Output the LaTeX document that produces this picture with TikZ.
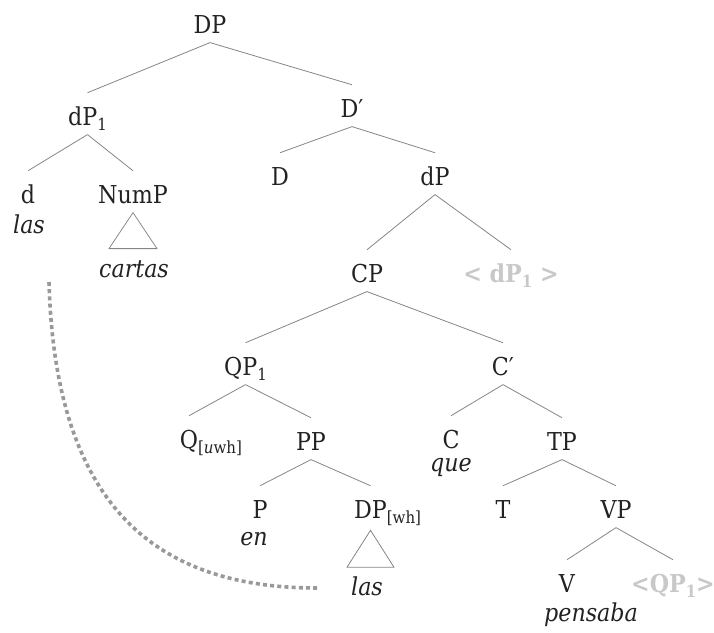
\documentclass[tikz,border=0pt]{standalone}
\usepackage{fontspec}
\setmainfont{DejaVu Serif Condensed}
\definecolor{ln}{HTML}{858585}
\definecolor{txt}{HTML}{222222}
\definecolor{ghost}{HTML}{C8C8C8}
\definecolor{dots}{HTML}{999999}
\newcommand\sbs[1]{\raisebox{-0.22em}{\fontsize{12.5}{13}\selectfont #1}}
\begin{document}
\begin{tikzpicture}[x=0.75pt,y=-0.75pt,
  lab/.style={anchor=base,inner sep=0pt,text height=24pt,text depth=7pt,
    font=\fontsize{18.5}{20}\selectfont,text=txt},
  word/.style={lab,font=\fontsize{18.5}{20}\selectfont\itshape},
  trace/.style={lab,font=\fontsize{18.5}{20}\selectfont\bfseries,text=ghost},
  edge/.style={draw=ln,line width=0.6pt},
  tri/.style={draw=ln,line width=0.6pt},
  move/.style={draw=dots,line width=2.7pt,dash pattern=on 3pt off 2.4pt}]
\useasboundingbox (0,0) rectangle (714,632);
% nodes
\node[lab] (DP) at (210,33) {DP};
\node[lab] (dP1) at (87.5,125) {dP\sbs{1}};
\node[lab] (Dbar) at (352,117) {D′};
\node[lab] (d) at (28,203) {d};
\node[word] (las1) at (29,233) {las};
\node[lab] (NumP) at (133,203) {NumP};
\node[word] (cartas) at (134,277) {cartas};
\node[lab] (D) at (280,185) {D};
\node[lab] (dP) at (435,185) {dP};
\node[lab] (CP) at (367,282) {CP};
\node[trace] (tdP) at (511,282) {< dP\sbs{1} >};
\node[lab] (QP1) at (245.5,375) {QP\sbs{1}};
\node[lab] (Cbar) at (503,375) {C′};
\node[lab] (Q) at (189,448) {Q\rlap{\sbs{[\textit{u}wh]}}};
\node[lab] (PP) at (311,450) {PP};
\node[lab] (C) at (451,448) {C};
\node[word] (que) at (451,471) {que};
\node[lab] (TP) at (562,450) {TP};
\node[lab] (P) at (260,518) {P};
\node[word] (en) at (254,545) {en};
\node[lab] (DPwh) at (370.5,518) {DP\rlap{\sbs{[wh]}}};
\node[lab] (T) at (503,518) {T};
\node[lab] (VP) at (616,518) {VP};
\node[word] (las2) at (367,595) {las};
\node[lab] (V) at (567,592) {V};
\node[trace] (tQP) at (673,592) {<QP\sbs{1}>};
\node[word] (pensaba) at (591,621) {pensaba};
% branches
\draw[edge] (DP.south) -- (dP1.north);
\draw[edge] (DP.south) -- (Dbar.north);
\draw[edge] (dP1.south) -- (d.north);
\draw[edge] (dP1.south) -- (NumP.north);
\draw[edge] (Dbar.south) -- (D.north);
\draw[edge] (Dbar.south) -- (dP.north);
\draw[edge] (dP.south) -- (CP.north);
\draw[edge] (dP.south) -- (tdP.north);
\draw[edge] (CP.south) -- (QP1.north);
\draw[edge] (CP.south) -- (Cbar.north);
\draw[edge] (QP1.south) -- (Q.north);
\draw[edge] (QP1.south) -- (PP.north);
\draw[edge] (PP.south) -- (P.north);
\draw[edge] (PP.south) -- (DPwh.north);
\draw[edge] (Cbar.south) -- (C.north);
\draw[edge] (Cbar.south) -- (TP.north);
\draw[edge] (TP.south) -- (T.north);
\draw[edge] (TP.south) -- (VP.north);
\draw[edge] (VP.south) -- (V.north);
\draw[edge] (VP.south) -- (tQP.north);
% triangles
\draw[tri] (NumP.south) -- ++(-24,36) -- ++(48,0) -- cycle;
\draw[tri] ([yshift=-2pt]DPwh.south) -- ++(-23.5,37) -- ++(47,0) -- cycle;
% movement
\coordinate (mvA) at (49,282);
\coordinate (mvB) at (317,588);
\draw[move] (mvA) .. controls (55,500) and (150,588) .. (mvB);
\end{tikzpicture}
\end{document}
